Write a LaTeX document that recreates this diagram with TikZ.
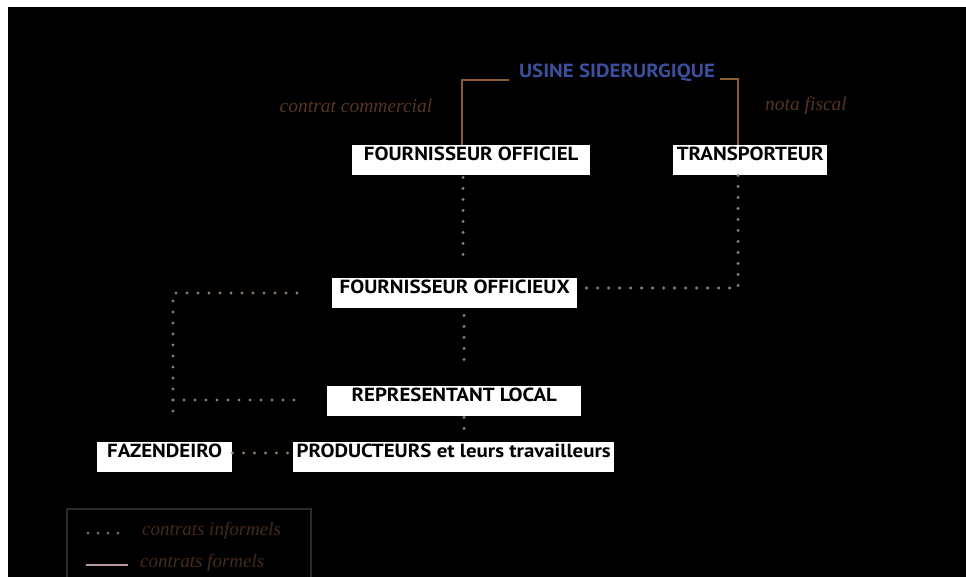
\documentclass[tikz,border=0pt]{standalone}
\usepackage{fontspec}
\newfontfamily\boxfont{PT Sans}[FakeStretch=1.1]
\newfontfamily\labfont{Liberation Serif}
\definecolor{usineblue}{HTML}{3B4F9C}
\definecolor{formalc}{HTML}{8D5E33}
\definecolor{dotc}{HTML}{8F7B68}
\definecolor{labc}{HTML}{553522}
\definecolor{legtext}{HTML}{442A1C}
\definecolor{legborder}{HTML}{2E2A27}
\definecolor{legline}{HTML}{B59D9D}
\definecolor{legdot}{HTML}{7A746E}
\tikzset{
  box/.style={fill=white, text=black, inner xsep=0pt, inner ysep=0pt,
    text height=15pt, text depth=15pt, anchor=north west,
    font=\boxfont\bfseries\fontsize{19}{19}\selectfont},
  formal/.style={draw=formalc, line width=2pt},
  informal/.style={draw=dotc, line width=3.3pt, line cap=round, dash pattern=on 0pt off 11pt},
  lab/.style={text=labc, inner sep=0pt, font=\labfont\itshape\fontsize{19.5}{19.5}\selectfont},
  legtxt/.style={text=legtext, inner sep=0pt, anchor=west, font=\labfont\itshape\fontsize{19}{19}\selectfont}
}
\begin{document}
\begin{tikzpicture}[x=1pt,y=-1pt]
\useasboundingbox (0,0) rectangle (966,577);
\fill[white] (0,0) rectangle (966,577);
\fill[black] (8,7) rectangle (966,577);
% nodes
\node[text=usineblue, inner sep=0pt, font=\boxfont\bfseries\fontsize{19}{19}\selectfont] (usine) at (617,73) {USINE SIDERURGIQUE};
\node[box, minimum width=238pt] (offi) at (352,145) {FOURNISSEUR OFFICIEL};
\node[box, minimum width=154pt] (trans) at (673,145) {TRANSPORTEUR};
\node[box, minimum width=245pt] (offx) at (332,278) {FOURNISSEUR OFFICIEUX};
\node[box, minimum width=254pt] (rep) at (327,386) {REPRESENTANT LOCAL};
\node[box, minimum width=321pt] (prod) at (293,442) {PRODUCTEURS et leurs travailleurs};
\node[box, minimum width=135pt] (faz) at (97,442) {FAZENDEIRO};
\node[lab] (cc) at (356,106) {contrat commercial};
\node[lab] (nf) at (806,106) {nota fiscal};
% formal connectors
\coordinate (bl) at (462,80);
\coordinate (br) at (738,79);
\draw[formal] ([xshift=-10pt]usine.west |- bl) -- (bl) -- (offi.north -| bl);
\draw[formal] ([xshift=5pt]usine.east |- br) -- (br) -- (trans.north -| br);
% informal connectors
\coordinate (v1) at (463,263);
\draw[informal] ([yshift=-2pt]offi.south -| v1) -- (v1);
\coordinate (c1) at (738,288);
\draw[informal] (trans.south -| c1) -- (c1) -- ([xshift=6pt]offx.east |- c1);
\coordinate (l1) at (297,293);
\coordinate (l2) at (173,293);
\coordinate (l3) at (173,422);
\coordinate (l4) at (297,400);
\draw[informal] (l1) -- (l2) -- (l3);
\draw[informal] (l2 |- l4) -- (l4);
\coordinate (v2) at (464,363);
\draw[informal] ([yshift=-7pt]offx.south -| v2) -- (v2);
\coordinate (v3) at (464,432);
\draw[informal] ([yshift=-1pt]rep.south -| v3) -- (v3);
\coordinate (h1) at (233,453);
\draw[informal] (faz.east |- h1) -- (prod.west |- h1);
% legend
\draw[legborder, line width=1.5pt] (67,580) -- (67,509) -- (311,509) -- (311,580);
\coordinate (ld1) at (88,533);
\coordinate (ld2) at (119,533);
\draw[draw=legdot, line width=3pt, line cap=round, dash pattern=on 0pt off 10pt] (ld1) -- (ld2);
\node[legtxt] (li) at (142,531) {contrats informels};
\coordinate (ll1) at (86,565);
\coordinate (ll2) at (128,565);
\draw[legline, line width=2.5pt] (ll1) -- (ll2);
\node[legtxt] (lf) at (140,563) {contrats formels};
\end{tikzpicture}
\end{document}
